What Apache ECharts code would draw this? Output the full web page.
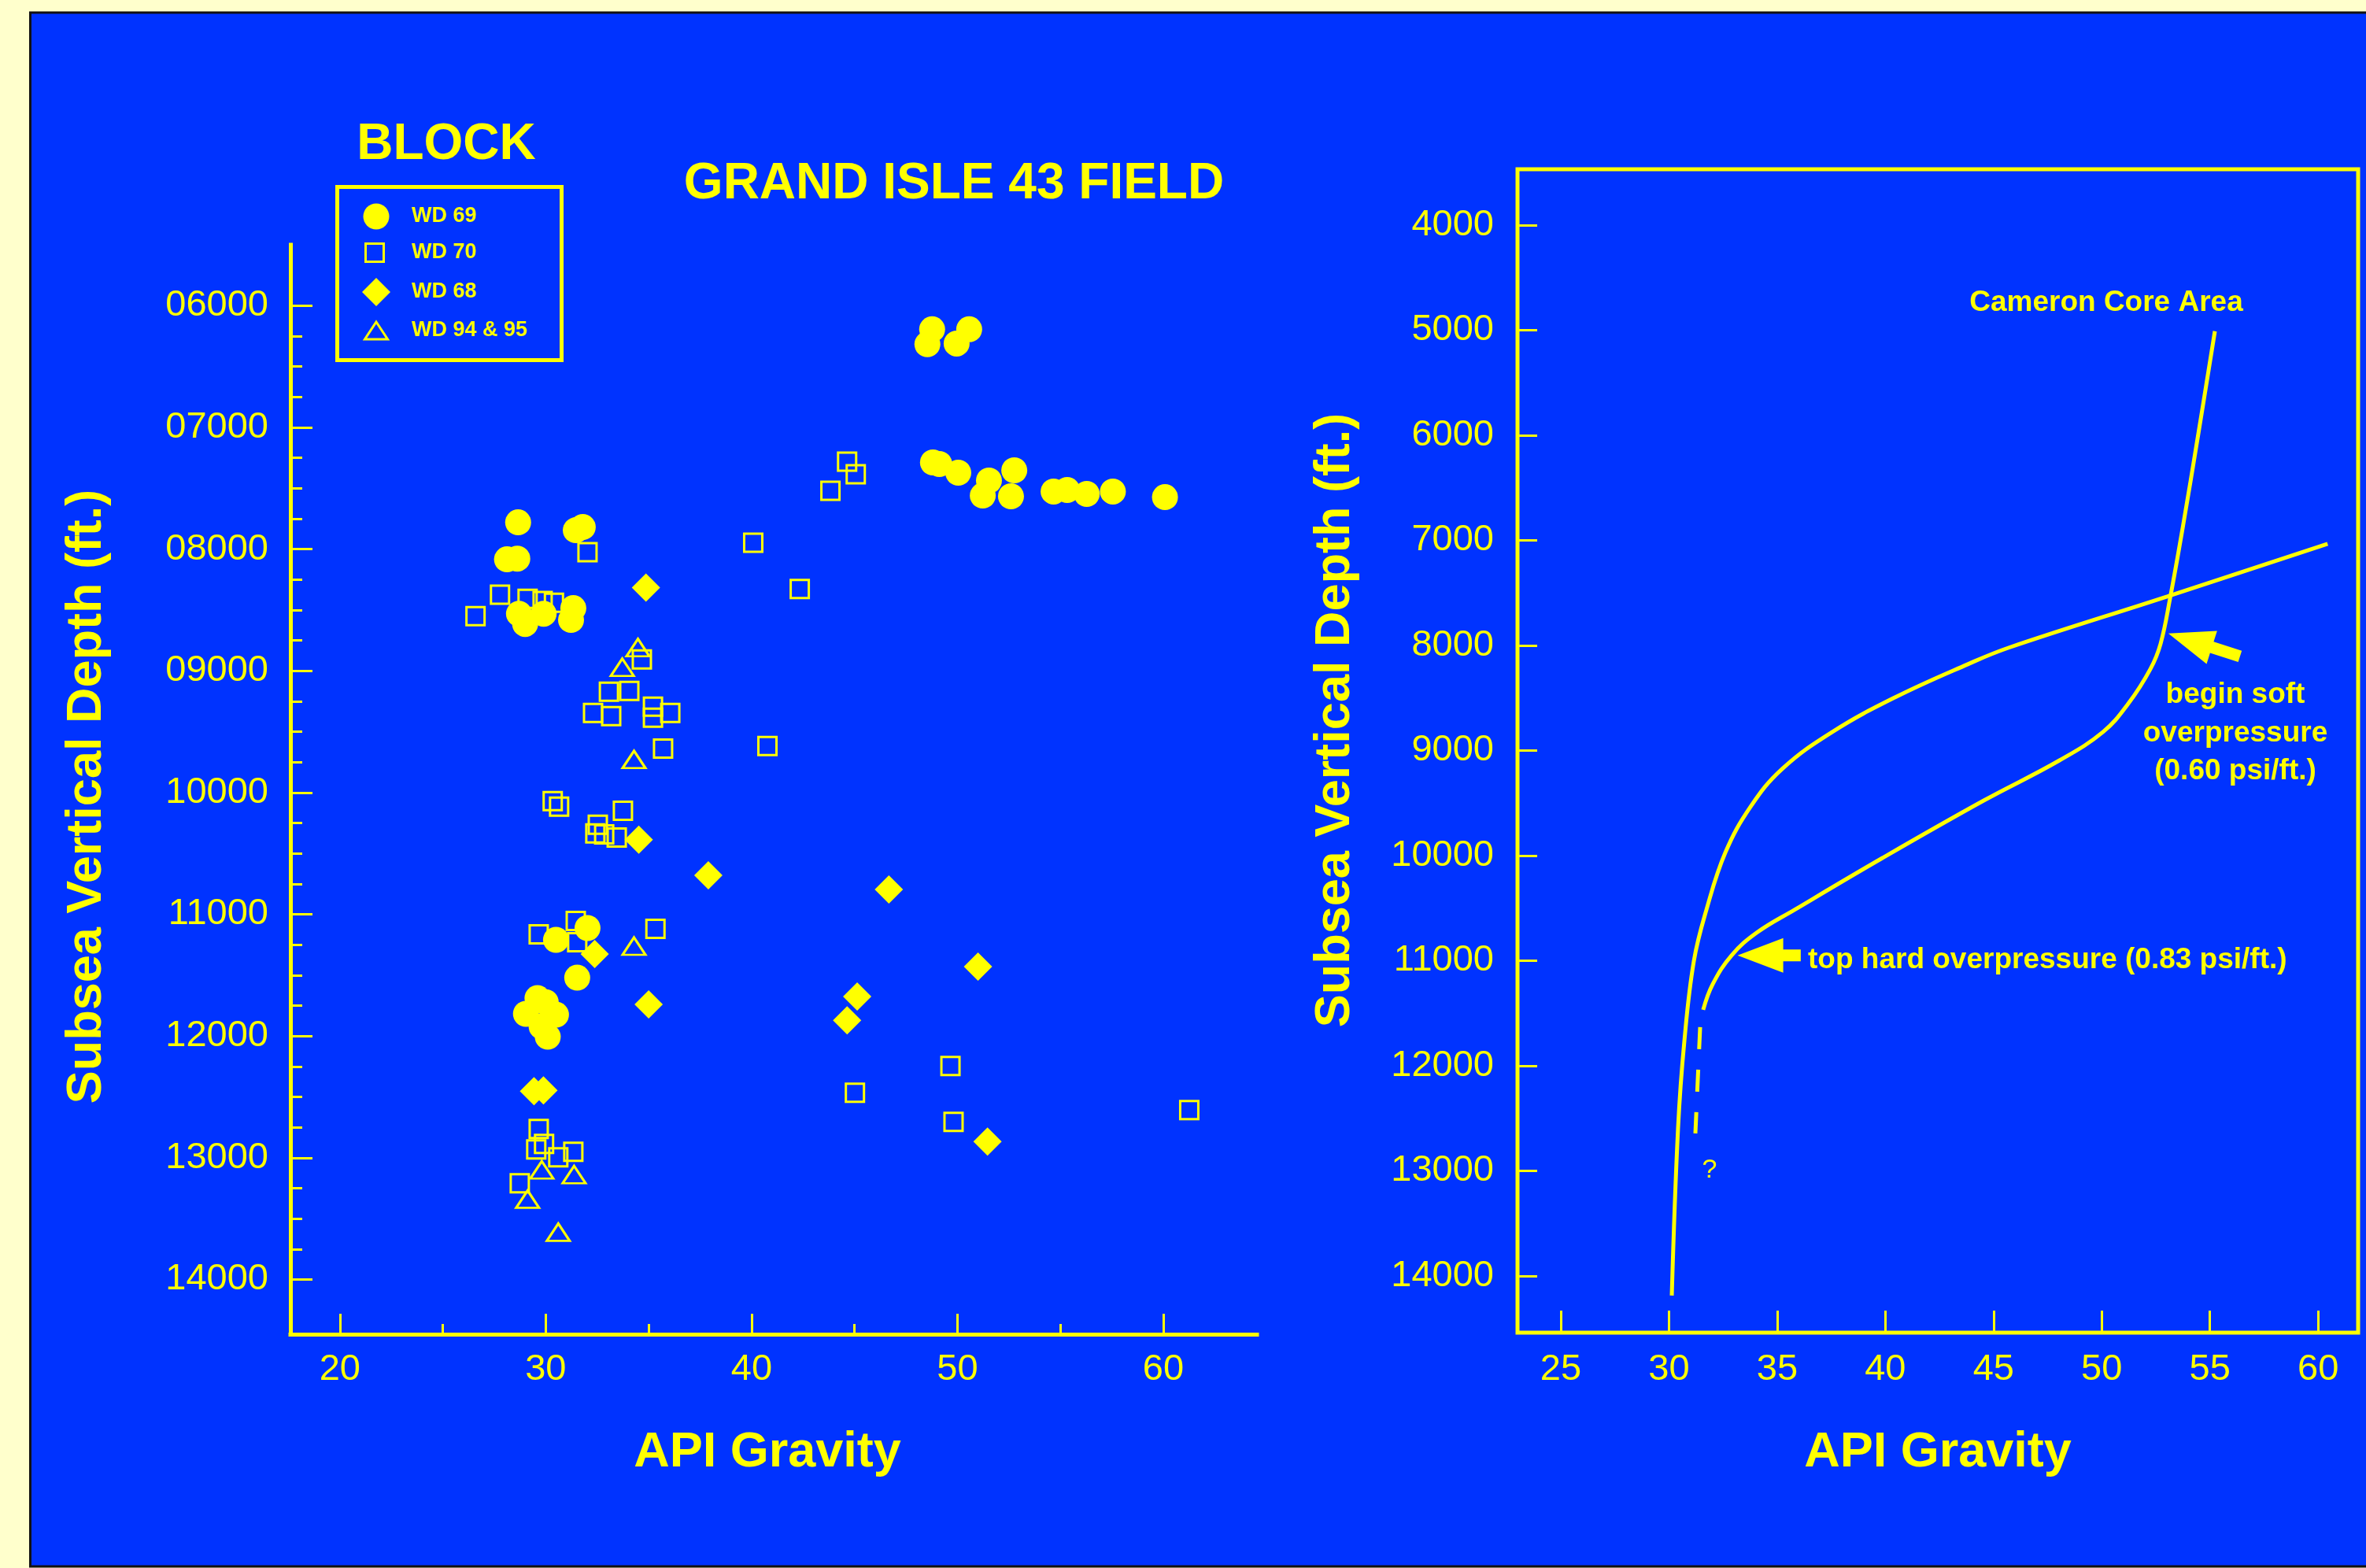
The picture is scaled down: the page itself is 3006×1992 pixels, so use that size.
<!DOCTYPE html>
<html>
<head>
<meta charset="utf-8">
<script src="https://cdn.jsdelivr.net/npm/echarts@6/dist/echarts.min.js"></script>
<style>
  html, body { margin: 0; padding: 0; background: #ffffcc; }
  #chart { width: 3006px; height: 1992px; }
</style>
</head>
<body>
<div id="chart"></div>
<script>
// left panel: API gravity vs depth, by block
var wd69 = [
  [48.77, 6194], [50.57, 6194], [48.54, 6317], [49.96, 6311],
  [48.81, 7288], [49.12, 7301], [50.04, 7372], [51.53, 7437], [52.76, 7353], [51.23, 7560],
  [52.6, 7566], [54.67, 7527], [55.33, 7515], [56.28, 7547], [57.55, 7527], [60.08, 7573],
  [28.66, 7780], [31.8, 7819], [31.46, 7845], [28.12, 8084], [28.62, 8078],
  [28.7, 8531], [29.0, 8615], [29.9, 8531], [31.34, 8485], [31.23, 8582],
  [32.03, 11113], [30.5, 11210], [31.53, 11521],
  [29.6, 11689], [30.0, 11722], [29.04, 11818], [30.5, 11825], [29.8, 11922], [30.1, 12006]
];
var wd70 = [
  [32.03, 8026], [40.08, 7948], [42.34, 8327], [43.83, 7521], [44.64, 7282], [45.06, 7385],
  [27.78, 8375], [29.12, 8408], [29.85, 8427], [30.4, 8440], [26.59, 8550],
  [34.67, 8906], [33.07, 9171], [34.06, 9165], [32.3, 9346], [33.18, 9372], [35.21, 9294],
  [35.21, 9385], [36.05, 9346], [35.7, 9638], [40.77, 9618],
  [30.34, 10071], [30.65, 10116], [33.75, 10149], [32.53, 10265], [32.41, 10336], [32.84, 10343], [33.45, 10369],
  [29.66, 11165], [31.46, 11055], [31.53, 11230], [35.33, 11120],
  [29.66, 12764], [29.92, 12887], [29.54, 12932], [30.61, 12997], [31.34, 12951], [28.74, 13210],
  [49.66, 12246], [45.02, 12466], [49.81, 12705], [61.26, 12608]
];
var wd68 = [
  [34.87, 8317], [34.52, 10388], [37.9, 10680], [32.38, 11327], [35.0, 11741], [29.43, 12453],
  [29.89, 12447], [46.67, 10796], [51.0, 11430], [45.13, 11676], [44.64, 11871], [51.46, 12867]
];
var wd94 = [
  [34.48, 8809], [33.72, 8971], [34.29, 9728], [34.29, 11262],
  [29.81, 13100], [31.38, 13139], [29.12, 13340], [30.61, 13612]
];

// right panel: trend curves
var coreCurve = [
  [55.23, 5011], [54.47, 5981], [53.74, 6884], [53.16, 7551], [52.72, 7985], [52.25, 8225],
  [51.23, 8554], [50.06, 8824], [48.03, 9097], [44.53, 9479], [39.88, 10022], [35.8, 10517],
  [34.06, 10734], [32.89, 10951], [32.02, 11225], [31.58, 11468]
];
var coreDashed = [[31.44, 11633], [31.22, 12644]];
var gulfCurve = [
  [60.44, 7034], [53.02, 7536], [45.71, 8022], [43.81, 8180], [40.46, 8494], [37.55, 8824],
  [35.23, 9176], [33.77, 9536], [32.61, 9970], [31.73, 10517], [31.15, 11004], [30.71, 11768],
  [30.42, 12592], [30.13, 14187]
];
// arrows: tip x, tip y, tail x, tail y
var arrows = [
  [53.08, 7888, 56.39, 8105],
  [33.17, 10951, 36.09, 10951]
];

// ticks
var leftDepthTicks = [6000, 7000, 8000, 9000, 10000, 11000, 12000, 13000, 14000];
var leftDepthMinor = [6250, 6500, 6750, 7250, 7500, 7750, 8250, 8500, 8750, 9250, 9500, 9750,
  10250, 10500, 10750, 11250, 11500, 11750, 12250, 12500, 12750, 13250, 13500, 13750];
var leftApiTicks = [20, 30, 40, 50, 60];
var leftApiMinor = [25, 35, 45, 55];
var rightDepthTicks = [4000, 5000, 6000, 7000, 8000, 9000, 10000, 11000, 12000, 13000, 14000];
var rightApiTicks = [25, 30, 35, 40, 45, 50, 55, 60];

var legendItems = ['WD 69', 'WD 70', 'WD 68', 'WD 94 & 95'];

var YEL = '#ffff00';
var BLUE = '#0033ff';
var FONT = '"Liberation Sans", Arial, sans-serif';

function txt(text, x, y, size, bold, align) {
  return {
    type: 'text', z: 10,
    style: {
      text: text, x: x, y: y, fill: YEL,
      font: (bold ? 'bold ' : '') + size + 'px ' + FONT,
      textAlign: align || 'center', align: align || 'center',
      textVerticalAlign: 'middle', verticalAlign: 'middle'
    }
  };
}

var chart = echarts.init(document.getElementById('chart'));

var hollow = { color: 'rgba(0,0,0,0)', borderColor: YEL, borderWidth: 3, opacity: 1 };
var solid = { color: YEL, opacity: 1 };
var axisName = { color: YEL, fontFamily: FONT, fontWeight: 'bold', fontSize: 63 };
var tickLabel = { color: YEL, fontFamily: FONT, fontSize: 47 };

/**
 * legend box, drawn by hand
 */
var legendGraphic = [
  { type: 'rect', z: 10, shape: { x: 428.5, y: 237.5, width: 285, height: 220 },
    style: { fill: 'none', stroke: YEL, lineWidth: 5 } },
  { type: 'circle', z: 10, shape: { cx: 478, cy: 275, r: 16.5 }, style: { fill: YEL } },
  { type: 'rect', z: 10, shape: { x: 464.5, y: 309.5, width: 23, height: 23 },
    style: { fill: 'none', stroke: YEL, lineWidth: 3 } },
  { type: 'polygon', z: 10, shape: { points: [[478, 353], [496, 371], [478, 389], [460, 371]] },
    style: { fill: YEL } },
  { type: 'polygon', z: 10, shape: { points: [[478, 409], [492.5, 431], [463.5, 431]] },
    style: { fill: 'none', stroke: YEL, lineWidth: 3 } }
];
var legendY = [275, 321, 371, 420];
legendItems.forEach(function (name, i) {
  legendGraphic.push(txt(name, 523, legendY[i], 27, true, 'left'));
});

var option = {
  animation: false,
  backgroundColor: '#ffffcc',
  graphic: [
    { type: 'rect', z: -10, shape: { x: 38.5, y: 16, width: 3000, height: 1974 },
      style: { fill: BLUE, stroke: '#111111', lineWidth: 3 } },
    txt('BLOCK', 567, 184, 64, true),
    txt('GRAND ISLE 43 FIELD', 1212, 234, 64, true),
    txt('Cameron Core Area', 2676, 385, 37, true),
    txt('begin soft', 2840, 883, 37, true),
    txt('overpressure', 2840, 932, 37, true),
    txt('(0.60 psi/ft.)', 2840, 980, 37, true),
    txt('top hard overpressure (0.83 psi/ft.)', 2297, 1220, 37, true, 'left'),
    txt('?', 2172, 1487, 34, false)
  ].concat(legendGraphic),
  grid: [
    { left: 369, top: 311, width: 1228, height: 1384, outerBoundsMode: 'none' },
    { left: 1928, top: 215, width: 1068, height: 1478, outerBoundsMode: 'none',
      show: true, borderColor: YEL, borderWidth: 5, backgroundColor: 'rgba(0,0,0,0)' }
  ],
  xAxis: [
    {
      gridIndex: 0, type: 'value', min: 17.6, max: 64.55, position: 'bottom',
      axisLine: { onZero: false, lineStyle: { color: YEL, width: 5, cap: 'square' } },
      axisTick: { inside: true, length: 26, customValues: leftApiTicks, lineStyle: { color: YEL, width: 3 } },
      axisLabel: { customValues: leftApiTicks, margin: 22, ...tickLabel },
      splitLine: { show: false },
      name: 'API Gravity', nameLocation: 'middle', nameGap: 119,
      nameTextStyle: { ...axisName, padding: [0, 16, 0, 0] }
    },
    {
      gridIndex: 0, type: 'value', min: 17.6, max: 64.55, position: 'bottom',
      axisLine: { show: false, onZero: false },
      axisTick: { inside: true, length: 13, customValues: leftApiMinor, lineStyle: { color: YEL, width: 3 } },
      axisLabel: { show: false },
      splitLine: { show: false }
    },
    {
      gridIndex: 1, type: 'value', min: 23, max: 61.85, position: 'bottom',
      axisLine: { show: false, onZero: false },
      axisTick: { inside: true, length: 28, customValues: rightApiTicks, lineStyle: { color: YEL, width: 3 } },
      axisLabel: { customValues: rightApiTicks, margin: 24, ...tickLabel },
      splitLine: { show: false },
      name: 'API Gravity', nameLocation: 'middle', nameGap: 121, nameTextStyle: axisName
    }
  ],
  yAxis: [
    {
      gridIndex: 0, type: 'value', inverse: true, min: 5500, max: 14450, position: 'left',
      axisLine: { onZero: false, lineStyle: { color: YEL, width: 5, cap: 'square' } },
      axisTick: { inside: true, length: 28, customValues: leftDepthTicks, lineStyle: { color: YEL, width: 3 } },
      axisLabel: {
        customValues: leftDepthTicks, margin: 28, ...tickLabel,
        formatter: function (v) { return String(v).padStart(5, '0'); }
      },
      splitLine: { show: false },
      name: 'Subsea Vertical Depth (ft.)', nameLocation: 'middle', nameRotate: 90, nameGap: 227,
      nameTextStyle: { ...axisName, padding: [0, 18, 0, 0] }
    },
    {
      gridIndex: 0, type: 'value', inverse: true, min: 5500, max: 14450, position: 'left',
      axisLine: { show: false, onZero: false },
      axisTick: { inside: true, length: 15, customValues: leftDepthMinor, lineStyle: { color: YEL, width: 3 } },
      axisLabel: { show: false },
      splitLine: { show: false }
    },
    {
      gridIndex: 1, type: 'value', inverse: true, min: 3470, max: 14540, position: 'left',
      axisLine: { show: false, onZero: false },
      axisTick: { inside: true, length: 25, customValues: rightDepthTicks, lineStyle: { color: YEL, width: 3 } },
      axisLabel: {
        customValues: rightDepthTicks, margin: 30, ...tickLabel,
        formatter: function (v) { return String(v); }
      },
      splitLine: { show: false },
      name: 'Subsea Vertical Depth (ft.)', nameLocation: 'middle', nameRotate: 90, nameGap: 200,
      nameTextStyle: { ...axisName, padding: [0, 0, 0, 78] }
    }
  ],
  series: [
    { name: 'WD 70', type: 'scatter', xAxisIndex: 0, yAxisIndex: 0, z: 2,
      symbol: 'rect', symbolSize: 23, itemStyle: hollow, data: wd70 },
    { name: 'WD 94 & 95', type: 'scatter', xAxisIndex: 0, yAxisIndex: 0, z: 3,
      symbol: 'triangle', symbolSize: [29, 22], itemStyle: hollow, data: wd94 },
    { name: 'WD 68', type: 'scatter', xAxisIndex: 0, yAxisIndex: 0, z: 4,
      symbol: 'diamond', symbolSize: 36, itemStyle: solid, data: wd68 },
    { name: 'WD 69', type: 'scatter', xAxisIndex: 0, yAxisIndex: 0, z: 5,
      symbol: 'circle', symbolSize: 33, itemStyle: solid, data: wd69 },
    { name: 'Cameron Core Area', type: 'line', xAxisIndex: 2, yAxisIndex: 2,
      showSymbol: false, smooth: 0.4, lineStyle: { color: YEL, width: 5 }, data: coreCurve },
    { name: 'core dashed', type: 'line', xAxisIndex: 2, yAxisIndex: 2,
      showSymbol: false, lineStyle: { color: YEL, width: 5, type: [28, 26] }, data: coreDashed },
    { name: 'trend', type: 'line', xAxisIndex: 2, yAxisIndex: 2,
      showSymbol: false, smooth: 0.4, lineStyle: { color: YEL, width: 5 }, data: gulfCurve },
    {
      name: 'arrows', type: 'custom', xAxisIndex: 2, yAxisIndex: 2, data: arrows,
      renderItem: function (params, api) {
        var tip = api.coord([api.value(0), api.value(1)]);
        var tail = api.coord([api.value(2), api.value(3)]);
        var dx = tail[0] - tip[0], dy = tail[1] - tip[1];
        var len = Math.sqrt(dx * dx + dy * dy);
        var ux = dx / len, uy = dy / len;
        var head = 58, half = 22, shaft = 7.5;
        function p(a, b) { return [tip[0] + ux * a - uy * b, tip[1] + uy * a + ux * b]; }
        return {
          type: 'polygon',
          shape: { points: [p(0, 0), p(head, half), p(head, shaft), p(len, shaft), p(len, -shaft), p(head, -shaft), p(head, -half)] },
          style: { fill: YEL }
        };
      }
    }
  ]
};

chart.setOption(option);
</script>
</body>
</html>
